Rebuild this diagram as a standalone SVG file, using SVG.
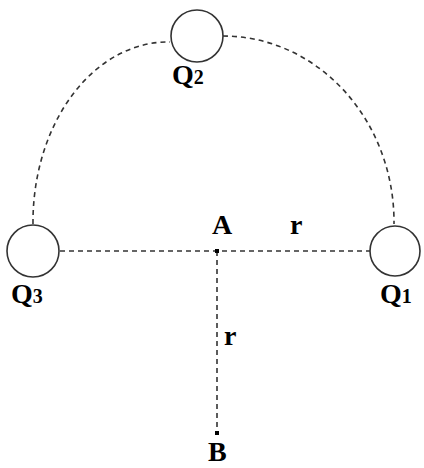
<svg xmlns="http://www.w3.org/2000/svg" width="424" height="468" viewBox="0 0 424 468">
<style>
.dash{fill:none;stroke:#333;stroke-width:1.6;stroke-dasharray:5,4}
.charge{fill:#fff;stroke:#333;stroke-width:1.6}
.lbl{font-family:"Liberation Serif","Times New Roman",serif;font-weight:bold;font-size:28px;fill:#000}
.sub{font-size:20px}
.pt{fill:#000}
</style>
<rect width="424" height="468" fill="#fff"/>
<g id="connectors">
<path class="dash" d="M33,224 A135,180 0 0 1 170,42"/>
<path class="dash" d="M223,36 A171,186 0 0 1 394,224"/>
<line class="dash" x1="60" y1="251" x2="370" y2="251"/>
<line class="dash" x1="217" y1="251" x2="217" y2="433"/>
</g>
<g id="Q2">
<circle class="charge" cx="197" cy="36" r="26"/>
<text class="lbl" x="172" y="84">Q<tspan class="sub">2</tspan></text>
</g>
<g id="Q3">
<circle class="charge" cx="33" cy="251" r="26"/>
<text class="lbl" x="11" y="303">Q<tspan class="sub">3</tspan></text>
</g>
<g id="Q1">
<circle class="charge" cx="395" cy="251" r="25"/>
<text class="lbl" x="380" y="303">Q<tspan class="sub">1</tspan></text>
</g>
<g id="A">
<rect class="pt" x="215" y="249" width="4" height="4"/>
<text class="lbl" x="212" y="234">A</text>
</g>
<g id="B">
<rect class="pt" x="215" y="431" width="4" height="4"/>
<text class="lbl" x="208" y="461">B</text>
</g>
<g id="labels">
<text class="lbl" x="290" y="234">r</text>
<text class="lbl" x="224" y="345">r</text>
</g>
</svg>
